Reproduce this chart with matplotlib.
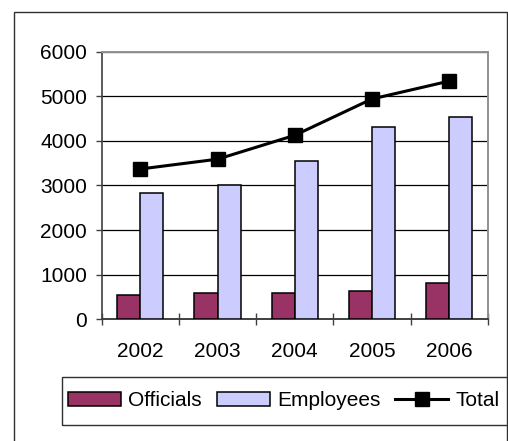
import matplotlib
matplotlib.use("Agg")
import matplotlib.pyplot as plt
import numpy as np
from matplotlib.patches import Rectangle

plt.rcParams["font.family"] = ["Liberation Sans", "DejaVu Sans"]

years = ["2002", "2003", "2004", "2005", "2006"]
officials = [545, 582, 582, 635, 807]
employees = [2838, 3011, 3543, 4305, 4529]
total = [3370, 3590, 4125, 4940, 5340]

W, H = 508, 441
fig = plt.figure(figsize=(W / 100, H / 100), dpi=100)

def px(x0, y0, x1, y1):
    # pixel box (top-left origin) -> figure fraction rect
    return [x0 / W, 1 - y1 / H, (x1 - x0) / W, (y1 - y0) / H]

ax = fig.add_axes(px(101.7, 51.7, 487.7, 319.3))

x = np.arange(len(years))
w = 0.30
b1 = ax.bar(x - w / 2, officials, w, color="#993366", edgecolor="black", linewidth=1.1,
            label="Officials", zorder=3)
b2 = ax.bar(x + w / 2, employees, w, color="#CCCCFF", edgecolor="black", linewidth=1.1,
            label="Employees", zorder=3)
ln, = ax.plot(x, total, color="black", linewidth=2.2, marker="s", markersize=9.5,
              label="Total", zorder=4)

ax.set_xlim(-0.5, len(years) - 0.5)
ax.set_ylim(0, 6000)
ax.set_yticks(np.arange(0, 6001, 1000))
ax.yaxis.grid(True, color="black", linewidth=0.9, zorder=1)
ax.set_axisbelow(True)

ax.set_xticks(x)
ax.set_xticklabels(years)
ax.set_xticks(np.arange(-0.5, len(years)), minor=True)
ax.tick_params(axis="x", which="major", length=0, pad=16, labelsize=15)
ax.tick_params(axis="x", which="minor", direction="inout", length=9, width=1, color="#404040")
ax.tick_params(axis="y", direction="out", length=4.5, width=1, pad=6, labelsize=15,
               color="#404040")

for s in ["top", "right"]:
    ax.spines[s].set_color("#909090")
    ax.spines[s].set_linewidth(1.4)
ax.spines["left"].set_color("#404040")
ax.spines["bottom"].set_color("#404040")
ax.spines["left"].set_linewidth(1.2)
ax.spines["bottom"].set_linewidth(1.4)

# outer chart border
fig.patches.append(Rectangle((14 / W, -0.1), (507 - 14) / W, 1.1 - 12 / H,
                             transform=fig.transFigure, fill=False,
                             edgecolor="#303030", linewidth=1))
# legend box
fig.patches.append(Rectangle((61.7 / W, 1 - 425 / H), (520 - 61.7) / W, (425 - 376.7) / H,
                             transform=fig.transFigure, fill=False,
                             edgecolor="#303030", linewidth=1))

fig.legend([b1, b2, ln], ["Officials", "Employees", "Total"], loc="center left",
           bbox_to_anchor=(64 / W, 1 - 400.8 / H), ncol=3, frameon=False,
           fontsize=15, handlelength=2.55, handletextpad=0.33,
           columnspacing=0.72, borderpad=0.2, borderaxespad=0)

fig.savefig("out.png", dpi=100)
